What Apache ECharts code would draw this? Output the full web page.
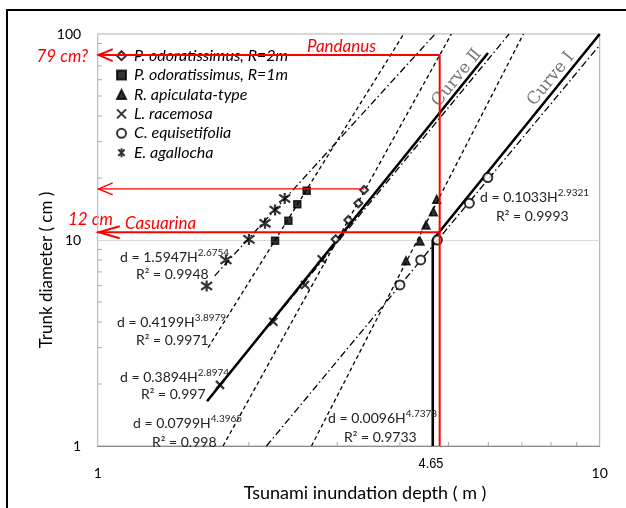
<!DOCTYPE html>
<html><head><meta charset="utf-8">
<script src="https://cdn.jsdelivr.net/npm/echarts@6/dist/echarts.min.js"></script>
<style>html,body{margin:0;padding:0;background:#fff}#c{width:626px;height:508px}</style>
</head><body><div id="c"></div>
<script>
// ---- axis ticks ----
const xTickLabels = [1, 10];
const yTickLabels = [1, 10, 100];
const minorX = [2, 3, 4, 5, 6, 7, 8, 9];
const minorY = [2, 3, 4, 5, 6, 7, 8, 9, 20, 30, 40, 50, 60, 70, 80, 90];

// ---- species (legend order) ----
const speciesNames = ['P. odoratissimus, R=2m', 'P. odoratissimus, R=1m', 'R. apiculata-type',
  'L. racemosa', 'C. equisetifolia', 'E. agallocha'];

// ---- observed points [inundation depth (m), trunk diameter (cm)] ----
const pOdoR2 = [[2.979, 10.08], [3.157, 12.5], [3.305, 15.07], [3.393, 17.5]];
const pOdoR1 = [[2.256, 9.93], [2.398, 12.41], [2.498, 14.9], [2.608, 17.35]];
const rApic = [[4.113, 7.93], [4.385, 9.89], [4.508, 11.82], [4.662, 13.72], [4.735, 15.76]];
const lRac = [[1.752, 1.98], [2.238, 4.01], [2.588, 6.05], [2.794, 8.07]];
const cEqu = [[4.0, 6.05], [4.4, 8.0], [4.75, 10.0], [5.5, 15.1], [5.985, 20.1]];
const eAga = [[1.648, 5.98], [1.801, 8.0], [2.001, 10.07], [2.154, 12.05], [2.256, 13.98], [2.358, 15.9]];

// ---- fitted power-law lines (end points) ----
const fitEAga = [[1.71, 6.7], [4.70, 100]];
const fitPOdoR1 = [[1.659, 3.0], [4.07, 100]];
const fitLRac = [[1.75, 1.98], [6.6, 100]];
const fitPOdoR2 = [[1.777, 1], [5.065, 100]];
const fitRApic = [[2.666, 1], [7.047, 100]];
const fitCEqu = [[2.169, 1], [10, 88.4]];
const curveII = [[1.651, 1.65], [5.99, 80.9]];
const curveI = [[4.65, 1], [4.65, 10], [10, 100]];

// ---- red annotation ----
const redVertical = [[4.8, 1], [4.8, 79]];
const redArrows = [[4.8, 79], [3.393, 17.7], [4.8, 10.9]];
const depthMark = '4.65';

// ---- equation texts ----
const eqTexts = [
  ['d = 1.5947H', '2.6754', 'R² = 0.9948'],
  ['d = 0.4199H', '3.8979', 'R² = 0.9971'],
  ['d = 0.3894H', '2.8974', 'R² = 0.997'],
  ['d = 0.0799H', '4.3965', 'R² = 0.998'],
  ['d = 0.0096H', '4.7378', 'R² = 0.9733'],
  ['d = 0.1033H', '2.9321', 'R² = 0.9993']
];
const eqPos = [[120, 257, 136, 274], [117, 322, 136, 340], [120, 377, 141, 394],
  [133, 423, 152, 442], [328, 418, 344, 437], [480, 197, 496, 216]];

const chart = echarts.init(document.getElementById('c'), null, {renderer: 'canvas'});
const FONT = 'Lato';

function scatter(name, data, symbol, size, extra) {
  return Object.assign({
    name, type: 'scatter', data, symbol, symbolSize: size, z: 5,
    itemStyle: {color: '#000', borderColor: '#000', borderWidth: 1.5}
  }, extra || {});
}
function fit(data, dash, width) {
  return {type: 'line', data, symbol: 'none', silent: true, z: 3,
    lineStyle: {color: '#000', width: width || 1.3, type: dash}};
}
const DASH = [4, 3];
const DASHDOT = [7, 3, 1.5, 3];

const asterisk = 'path://M0 0L10 10M10 0L0 10M5 -2L5 12';
const xmark = 'path://M0 0L10 10M10 0L0 10';

function tickSeries(data, horiz) {
  return {type: 'custom', silent: true, data, z: 2, clip: false,
    renderItem: (params, api) => {
      const p = api.coord([api.value(0), api.value(1)]);
      const shape = horiz ? {x1: p[0], y1: p[1], x2: p[0] + 4, y2: p[1]}
                          : {x1: p[0], y1: p[1], x2: p[0], y2: p[1] - 4};
      return {type: 'line', shape, style: {stroke: '#a6a6a6', lineWidth: 1}};
    }};
}

const graphics = [
  {type: 'rect', shape: {x: 7, y: 10, width: 700, height: 600}, style: {stroke: '#000', lineWidth: 2, fill: null}, silent: true},
  {type: 'text', x: 47, y: 270, rotation: Math.PI / 2,
    style: {text: 'Trunk diameter ( cm )', font: '17px ' + FONT, fill: '#000', align: 'center', verticalAlign: 'middle'}},
  {type: 'text', x: 365, y: 493,
    style: {text: 'Tsunami inundation depth ( m )', font: '18px ' + FONT, fill: '#000', align: 'center', verticalAlign: 'middle'}},
  {type: 'text', x: 431, y: 464, scaleX: 0.85,
    style: {text: depthMark, font: '15px "Liberation Sans"', fill: '#000', align: 'center', verticalAlign: 'middle'}},
  {type: 'text', x: 88, y: 57,
    style: {text: '79 cm?', font: 'italic 17px ' + FONT, fill: '#ff0000', align: 'right', verticalAlign: 'middle'}},
  {type: 'text', x: 307, y: 47,
    style: {text: 'Pandanus', font: 'italic 17px ' + FONT, fill: '#ff0000', align: 'left', verticalAlign: 'middle'}},
  {type: 'text', x: 68, y: 220,
    style: {text: '12 cm', font: 'italic 17px ' + FONT, fill: '#ff0000', align: 'left', verticalAlign: 'middle'}},
  {type: 'text', x: 125, y: 224,
    style: {text: 'Casuarina', font: 'italic 17px ' + FONT, fill: '#ff0000', align: 'left', verticalAlign: 'middle'}},
  {type: 'text', x: 457, y: 78, rotation: 0.89, z: 10,
    style: {text: 'Curve Ⅱ', font: '17px "DejaVu Serif"', fill: '#777', align: 'center', verticalAlign: 'middle'}},
  {type: 'text', x: 551, y: 79, rotation: 0.89, z: 10,
    style: {text: 'Curve Ⅰ', font: '17px "DejaVu Serif"', fill: '#777', align: 'center', verticalAlign: 'middle'}}
];
eqTexts.forEach((t, i) => {
  const p = eqPos[i];
  graphics.push({type: 'text', x: p[0], y: p[1], z: 10,
    style: {text: '{m|' + t[0] + '}{s|' + t[1] + '}', align: 'left', verticalAlign: 'middle',
      rich: {m: {fontSize: 14, fontFamily: FONT, fill: '#222', lineHeight: 18},
             s: {fontSize: 10, fontFamily: FONT, fill: '#222', lineHeight: 10, verticalAlign: 'top'}}}});
  graphics.push({type: 'text', x: p[2], y: p[3], z: 10,
    style: {text: t[2], font: '14px ' + FONT, fill: '#222', align: 'left', verticalAlign: 'middle'}});
});

const option = {
  animation: false,
  backgroundColor: '#fff',
  grid: {left: 97.7, right: 26.3, top: 34, bottom: 62, show: true, borderColor: '#a6a6a6', borderWidth: 1},
  xAxis: {type: 'log', logBase: 10, min: 1, max: 10,
    axisLine: {show: true, lineStyle: {color: '#8c8c8c', width: 1}}, axisTick: {show: false},
    splitLine: {show: false}, minorTick: {show: false},
    axisLabel: {margin: 20, fontSize: 14, fontFamily: FONT, color: '#000',
      formatter: v => xTickLabels.indexOf(Math.round(v)) >= 0 ? String(Math.round(v)) : ''}},
  yAxis: {type: 'log', logBase: 10, min: 1, max: 100,
    axisLine: {show: true, lineStyle: {color: '#bfbfbf', width: 1}}, axisTick: {show: false},
    splitLine: {show: true, lineStyle: {color: '#d9d9d9', width: 1}},
    axisLabel: {margin: 16.5, fontSize: 14, fontFamily: FONT, color: '#000',
      formatter: v => yTickLabels.indexOf(Math.round(v)) >= 0 ? String(Math.round(v)) : ''}},
  legend: {orient: 'vertical', left: 111, top: 42.7, itemWidth: 9, itemHeight: 9, itemGap: 3.4,
    data: speciesNames, selectedMode: false,
    textStyle: {fontFamily: FONT, fontStyle: 'italic', fontSize: 16, color: '#000', lineHeight: 16, padding: [0, 0, 0, 3]}},
  graphic: graphics,
  series: [
    tickSeries(minorX.map(v => [v, 1]), false),
    tickSeries(minorY.map(v => [1, v]), true),
    fit(fitEAga, DASHDOT),
    fit(fitPOdoR1, DASH),
    fit(fitLRac, DASHDOT),
    fit(fitPOdoR2, DASH),
    fit(fitRApic, DASH),
    fit(fitCEqu, DASHDOT),
    fit(curveII, 'solid', 2.6),
    fit(curveI, 'solid', 2.6),
    scatter(speciesNames[0], pOdoR2, 'emptyDiamond', 8),
    scatter(speciesNames[1], pOdoR1, 'rect', 7),
    scatter(speciesNames[2], rApic, 'triangle', 8),
    scatter(speciesNames[3], lRac, xmark, 8, {itemStyle: {color: '#000', borderColor: '#000', borderWidth: 2.2}}),
    scatter(speciesNames[4], cEqu, 'emptyCircle', 9),
    scatter(speciesNames[5], eAga, asterisk, 11, {itemStyle: {color: '#000', borderColor: '#000', borderWidth: 2.2}}),
    {type: 'line', data: redVertical, symbol: 'none', silent: true, z: 8,
      lineStyle: {color: '#ff0000', width: 2}},
    {type: 'custom', data: redArrows, silent: true, z: 8, clip: false,
      renderItem: (params, api) => {
        const end = api.coord([api.value(0), api.value(1)]);
        const start = api.coord([1, api.value(1)]);
        const w = params.dataIndex === 1 ? 1.4 : 2;
        const head = params.dataIndex === 2 ? 22 : 15;
        return {type: 'group', children: [
          {type: 'line', shape: {x1: start[0], y1: start[1], x2: end[0], y2: end[1]}, style: {stroke: '#ff0000', lineWidth: w}},
          {type: 'polyline', shape: {points: [[start[0] + head, start[1] - 6], [start[0] + 1, start[1]], [start[0] + head, start[1] + 6]]},
            style: {stroke: '#ff0000', lineWidth: w, fill: null}}
        ]};
      }}
  ]
};
chart.setOption(option);
</script></body></html>
